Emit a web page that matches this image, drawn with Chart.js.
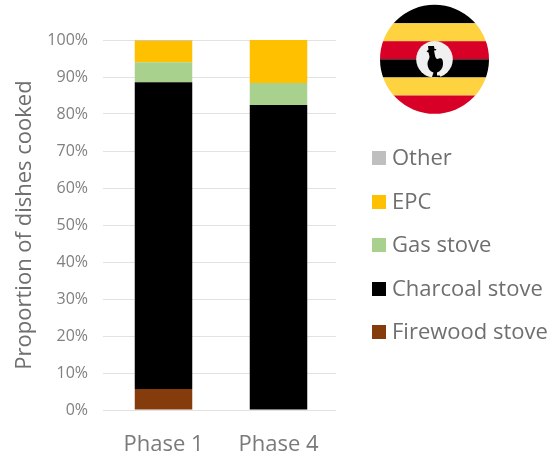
<!DOCTYPE html>
<html>
<head>
<meta charset="utf-8">
<title>Proportion of dishes cooked</title>
<script src="https://cdn.jsdelivr.net/npm/chart.js@4/dist/chart.umd.min.js"></script>
<style>
  html, body { margin: 0; padding: 0; background: #fff; }
  #wrap { position: relative; width: 555px; height: 456px; overflow: hidden; font-family: "Open Sans", sans-serif; }
  #chart { position: absolute; left: 0; top: 0; }
  #flag { position: absolute; left: 379px; top: 4px; }
  #legend { position: absolute; left: 372px; top: 142px; }
  .item { position: absolute; left: 0; white-space: nowrap; font-size: 22px; line-height: 28px; color: #6f6f6f; }
  .box { position: absolute; left: 0; top: 9px; width: 14px; height: 14px; }
  .name { position: absolute; left: 20px; top: 0; }
</style>
</head>
<body>
<div id="wrap">
  <canvas id="chart" width="555" height="456"></canvas>
  <svg id="flag" width="112" height="112" viewBox="0 0 112 112">
    <defs><clipPath id="disc"><circle cx="55.5" cy="55.3" r="54.5"></circle></clipPath></defs>
    <g clip-path="url(#disc)">
      <rect x="0" y="0" width="112" height="19.3" fill="#000000"></rect>
      <rect x="0" y="19.3" width="112" height="17.9" fill="#ffd33f"></rect>
      <rect x="0" y="37.2" width="112" height="18.1" fill="#d80027"></rect>
      <rect x="0" y="55.3" width="112" height="18.2" fill="#000000"></rect>
      <rect x="0" y="73.5" width="112" height="18" fill="#ffd33f"></rect>
      <rect x="0" y="91.5" width="112" height="20.5" fill="#d80027"></rect>
    </g>
    <circle cx="55.5" cy="55.3" r="18.3" fill="#f0f0f0"></circle>
    <path d="M49 42 h6 l0.5 3 h2 l-1 1.5 h-1.5 l1 5 c0.5 3 2 4 4 3 c3 -1 4 1 4 5 c0 5 -3 8 -6 9 l0 3 h3 v1.5 h-8 l1.5 -4.5 c-4 -1 -6 -5 -6 -9 c0 -3 2 -4 2 -7 l-1 -4 l-2 -1 l2 -2 z" fill="#000000"></path>
  </svg>
  <div id="legend"></div>
</div>
<script>
var phases = ['Phase 1', 'Phase 4'];
var firewood = [5.7, 0];
var charcoal = [82.9, 82.4];
var gas = [5.4, 6.0];
var epc = [5.8, 11.6];
var other = [0.2, 0];
var yTicks = [0, 10, 20, 30, 40, 50, 60, 70, 80, 90, 100];

var chartCanvas = document.getElementById('chart');
var ctx = chartCanvas.getContext('2d');

var stoves = new Chart(ctx, {
  type: 'bar',
  data: {
    labels: phases,
    datasets: [
      { label: 'Firewood stove', data: firewood, backgroundColor: '#843c0c' },
      { label: 'Charcoal stove', data: charcoal, backgroundColor: '#000000' },
      { label: 'Gas stove', data: gas, backgroundColor: '#a9d18e' },
      { label: 'EPC', data: epc, backgroundColor: '#ffc000' },
      { label: 'Other', data: other, backgroundColor: '#bfbfbf' }
    ]
  },
  options: {
    responsive: false,
    animation: false,
    layout: { padding: { left: 0, right: 219, top: 40, bottom: 0 } },
    datasets: { bar: { barPercentage: 0.5, categoryPercentage: 1 } },
    plugins: { legend: { display: false }, tooltip: { enabled: false } },
    scales: {
      x: {
        stacked: true,
        grid: { display: false },
        border: { display: false },
        ticks: { color: '#7a7a7a', font: { family: 'Open Sans', size: 22 }, padding: 14, maxRotation: 0 },
        afterFit: function (scale) { scale.height = 46; }
      },
      y: {
        stacked: true,
        min: 0,
        max: 100,
        afterBuildTicks: function (scale) {
          scale.ticks = yTicks.map(function (v) { return { value: v }; });
        },
        grid: { color: '#e2e2e2', lineWidth: 1, tickLength: 3 },
        border: { display: false },
        ticks: {
          color: '#808080',
          font: { family: 'Open Sans', size: 16 },
          padding: 15,
          callback: function (v) { return v + '%'; }
        },
        title: {
          display: true,
          text: 'Proportion of dishes cooked',
          color: '#6f6f6f',
          font: { family: 'Open Sans', size: 22 },
          padding: { top: 12, bottom: 0 }
        },
        afterFit: function (scale) { scale.width = 106; }
      }
    }
  }
});

// Legend goes top to bottom in reverse stack order, like the original
var legend = document.getElementById('legend');
stoves.data.datasets.slice().reverse().forEach(function (ds, i) {
  var item = document.createElement('div');
  item.className = 'item';
  item.style.top = (i * 43.5) + 'px';
  var box = document.createElement('span');
  box.className = 'box';
  box.style.background = ds.backgroundColor;
  var name = document.createElement('span');
  name.className = 'name';
  name.textContent = ds.label;
  item.appendChild(box);
  item.appendChild(name);
  legend.appendChild(item);
});
</script>
</body>
</html>
